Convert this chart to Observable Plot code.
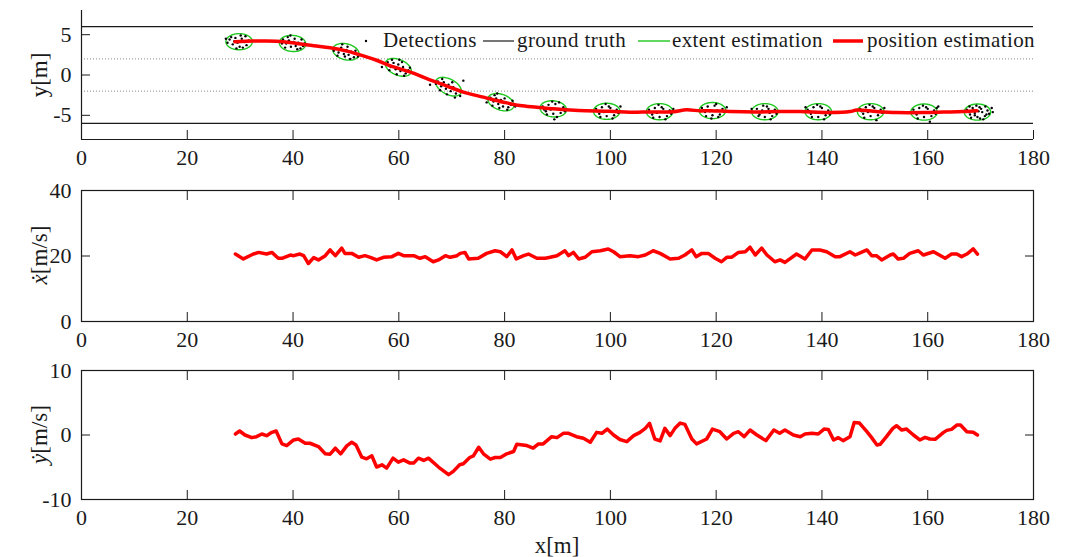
<!DOCTYPE html>
<html><head><meta charset="utf-8">
<script src="https://cdn.jsdelivr.net/npm/d3@7"></script>
<script src="https://cdn.jsdelivr.net/npm/@observablehq/plot@0.6"></script>
<style>
body{margin:0;background:#fff;}
#chart{position:relative;width:1067px;height:557px;font-family:"Liberation Serif","Times New Roman","DejaVu Serif",serif;}
#chart svg{position:absolute;left:0;}
#chart svg text{font-family:"Liberation Serif","Times New Roman","DejaVu Serif",serif !important;}
</style></head><body><div id="chart"></div>
<script>
// ---------- data ----------
const xDomain = [0, 180];
const xTicks = [0, 20, 40, 60, 80, 100, 120, 140, 160, 180];
const yPosDomain = [-8, 8];
const yPosTicks = [-5, 0, 5];
const vxDomain = [0, 40];
const vxTicks = [0, 20, 40];
const vyDomain = [-10, 10];
const vyTicks = [-10, 0, 10];
const roadBoundaries = [6, -6];
const laneMarkings = [2, -2];

const legendLabels = ["Detections", "ground truth", "extent estimation", "position estimation"];

// position estimation [x, y]
const position = [[29.0,4.13],[32.5,4.21],[36.9,4.2],[40.7,3.92],[43.9,3.63],[47.0,3.38],[50.2,2.96],[53.3,2.38],[55.8,1.83],[59.0,1.0],[62.1,0.38],[65.3,-0.46],[69.1,-1.37],[72.2,-2.12],[76.0,-2.75],[79.8,-3.37],[82.9,-3.79],[86.1,-4.0],[89.2,-4.2],[94.0,-4.4],[99.9,-4.5],[103.7,-4.62],[107.5,-4.58],[111.9,-4.55],[114.4,-4.32],[117.0,-4.45],[118.9,-4.42],[122.6,-4.54],[127.7,-4.6],[131.5,-4.54],[135.9,-4.54],[141.5,-4.66],[145.3,-4.54],[146.6,-4.35],[150.4,-4.54],[154.1,-4.66],[159.2,-4.66],[163.0,-4.6],[166.7,-4.54],[169.3,-4.42]];

// extent estimation ellipses
const ellipseX = [29.8, 39.9, 50.0, 59.9, 69.4, 79.3, 89.2, 99.3, 109.3, 119.3, 129.2, 139.3, 149.2, 159.3, 169.4];
const ellipseY = [4.13, 3.92, 2.88, 0.95, -1.45, -3.37, -4.2, -4.5, -4.55, -4.41, -4.55, -4.55, -4.55, -4.6, -4.6];
const ellipseAngle = [0, -2, -7, -12, -15, -10, -3, 0, 0, 0, 0, 0, 0, 0, 0];
const semiMajor = 2.5, semiMinor = 1.0;

// detections [x, y]
const detections = [
[28.0,4.4],[28.6,3.8],[29.1,4.6],[29.5,4.0],[29.9,3.5],[30.3,4.5],[30.8,4.1],[31.2,3.7],[31.6,4.3],[28.9,4.2],[30.5,3.4],[29.3,3.3],[31.0,4.8],[27.6,4.0],[30.1,4.9],[28.3,4.7],[27.3,4.5],
[38.1,4.4],[38.7,3.9],[39.2,4.3],[39.6,3.5],[40.1,4.1],[40.5,3.6],[41.0,4.0],[41.4,3.3],[41.9,3.6],[39.0,4.7],[40.8,3.2],[39.5,4.9],[42.2,3.9],[38.5,3.4],[40.3,4.5],[37.9,3.9],[41.6,4.4],
[48.0,3.3],[48.6,2.8],[49.1,3.4],[49.6,2.6],[50.1,3.1],[50.5,2.5],[51.0,2.9],[51.5,2.2],[52.0,2.6],[49.3,3.8],[50.8,2.0],[48.4,2.4],[51.8,3.0],[49.8,2.3],[50.3,3.5],[52.3,2.3],[47.7,3.0],
[57.9,1.6],[58.5,1.0],[59.0,1.5],[59.4,0.7],[59.9,1.3],[60.3,0.5],[60.8,1.0],[61.3,0.2],[61.8,0.6],[58.7,1.9],[60.6,1.6],[59.6,0.1],[62.1,0.9],[58.2,0.6],[61.0,-0.1],[56.8,1.0],[60.1,1.9],
[67.4,-0.8],[68.0,-1.4],[68.5,-0.9],[68.9,-1.7],[69.4,-1.2],[69.8,-2.0],[70.3,-1.5],[70.8,-2.3],[71.3,-1.9],[68.2,-0.5],[70.1,-0.9],[69.1,-2.4],[71.6,-2.6],[67.8,-1.9],[70.6,-2.8],[65.9,-1.2],[72.2,-0.7],[67.0,-1.1],
[77.3,-2.8],[77.9,-3.3],[78.4,-2.9],[78.8,-3.6],[79.3,-3.1],[79.7,-3.9],[80.2,-3.4],[80.7,-4.0],[81.2,-3.7],[78.1,-2.5],[80.0,-2.9],[79.0,-4.1],[81.5,-3.2],[77.7,-3.8],[80.5,-4.3],[76.6,-3.4],[82.0,-3.9],[78.6,-2.3],
[87.2,-3.9],[87.8,-4.5],[88.3,-3.7],[88.7,-4.3],[89.2,-4.8],[89.6,-3.6],[90.1,-4.2],[90.6,-4.7],[91.1,-4.0],[88.0,-4.9],[89.9,-5.2],[89.0,-3.3],[91.4,-4.5],[87.5,-4.3],[90.3,-3.4],[89.4,-5.5],
[97.3,-4.2],[97.9,-4.8],[98.4,-4.0],[98.8,-4.6],[99.3,-5.1],[99.7,-3.9],[100.2,-4.5],[100.7,-5.0],[101.2,-4.3],[98.1,-5.2],[100.0,-4.1],[99.1,-3.6],[101.5,-4.7],[97.6,-4.5],[100.4,-5.4],[101.9,-3.9],
[107.3,-4.3],[107.9,-4.9],[108.4,-4.1],[108.8,-4.7],[109.3,-5.2],[109.7,-4.0],[110.2,-4.6],[110.7,-5.1],[111.2,-4.4],[108.1,-5.3],[110.0,-4.2],[109.1,-3.7],[111.5,-4.8],[107.6,-4.6],[110.4,-5.5],[111.9,-4.2],
[117.3,-4.1],[117.9,-4.6],[118.4,-3.9],[118.8,-4.5],[119.3,-5.0],[119.7,-3.8],[120.2,-4.4],[120.7,-4.9],[121.2,-4.2],[118.1,-5.1],[120.0,-3.6],[119.1,-5.4],[121.5,-4.6],[117.6,-4.4],[120.4,-5.2],[122.0,-4.0],
[127.0,-4.6],[127.7,-4.2],[128.2,-4.9],[128.7,-4.4],[129.2,-5.2],[129.6,-3.9],[130.1,-4.7],[130.6,-5.1],[131.1,-4.3],[128.0,-5.1],[129.9,-4.2],[128.9,-3.8],[131.4,-4.8],[126.7,-4.2],[130.3,-5.5],[131.8,-4.5],
[137.3,-4.3],[137.9,-4.8],[138.4,-4.0],[138.8,-4.7],[139.3,-5.2],[139.7,-3.9],[140.2,-4.6],[140.7,-5.0],[141.2,-4.4],[138.1,-5.2],[140.0,-4.1],[139.1,-3.7],[141.5,-4.9],[137.6,-4.5],[140.4,-5.5],[136.9,-4.0],
[147.2,-4.2],[147.8,-4.8],[148.3,-4.0],[148.7,-4.6],[149.2,-5.1],[149.6,-3.9],[150.1,-4.5],[150.6,-5.0],[151.1,-4.3],[148.0,-5.3],[149.9,-4.1],[149.0,-3.7],[151.4,-4.7],[147.5,-4.5],[150.3,-5.6],[151.8,-4.1],
[157.3,-4.3],[157.9,-4.9],[158.4,-4.1],[158.8,-4.7],[159.3,-5.2],[159.7,-4.0],[160.2,-4.6],[160.7,-5.1],[161.2,-4.4],[158.1,-5.4],[160.0,-4.2],[159.1,-3.8],[161.5,-4.8],[157.6,-4.6],[160.4,-5.8],[162.0,-3.9],[161.7,-4.1],
[167.4,-4.3],[168.0,-4.9],[168.5,-4.1],[168.9,-4.7],[169.4,-5.2],[169.8,-4.0],[170.3,-4.6],[170.8,-5.1],[171.3,-4.4],[168.2,-5.3],[170.1,-4.2],[169.2,-3.8],[171.6,-4.8],[167.7,-4.6],[170.5,-5.5],[172.1,-4.1],[168.6,-4.4],[169.6,-4.5],[170.9,-3.9],[168.9,-5.0],[171.1,-4.9],[167.9,-3.9],[169.9,-5.4],[172.3,-4.6]
];

// velocity x [x, vx]
const velX = [[29.1,20.6],[30.6,19.1],[32.5,20.6],[33.5,21.1],[35.0,20.6],[36.0,21.1],[37.2,19.3],[37.9,19.3],[39.5,20.3],[40.1,20.1],[41.3,20.6],[42.0,20.1],[42.9,17.7],[43.9,19.5],[44.8,18.8],[46.1,20.1],[47.0,21.85],[48.0,20.1],[49.2,22.4],[49.8,20.8],[51.1,20.8],[52.4,19.6],[53.6,20.1],[54.6,19.6],[55.8,18.8],[57.1,19.6],[58.7,19.8],[59.9,20.8],[60.9,20.1],[62.8,20.1],[64.0,19.3],[65.0,19.8],[66.5,18.25],[67.5,18.8],[68.8,20.1],[69.7,19.6],[71.0,20.1],[71.6,20.8],[72.5,21.1],[73.2,19.1],[75.0,19.3],[76.6,20.8],[78.2,21.6],[79.2,21.3],[80.4,19.8],[81.4,21.85],[82.2,19.1],[83.6,20.1],[84.5,20.6],[86.1,19.3],[87.7,19.3],[88.6,19.6],[89.9,20.1],[91.4,21.6],[92.1,20.1],[93.0,21.1],[94.0,19.1],[95.2,19.6],[96.5,21.3],[98.1,21.6],[99.6,22.15],[100.6,21.3],[101.8,19.8],[103.7,20.1],[105.3,19.8],[106.6,20.3],[108.1,21.6],[109.4,20.8],[111.3,19.1],[112.9,19.3],[114.1,20.3],[115.4,21.85],[116.2,19.8],[117.3,20.8],[118.5,20.8],[119.8,19.3],[121.0,18.25],[122.0,19.6],[122.9,19.6],[124.2,21.1],[125.5,21.3],[126.4,22.7],[127.4,20.3],[128.6,22.4],[129.6,20.3],[131.1,18.25],[132.1,18.8],[133.0,18.05],[135.2,20.6],[136.8,19.1],[138.1,21.85],[139.6,21.85],[140.9,21.3],[142.5,19.8],[143.4,19.8],[145.3,21.3],[146.3,20.3],[148.5,21.85],[149.4,20.1],[150.3,20.1],[151.3,18.8],[152.9,20.3],[153.5,20.6],[154.4,19.1],[155.4,19.3],[156.6,20.8],[158.2,21.6],[159.2,20.3],[161.1,21.3],[163.3,19.3],[164.5,20.6],[165.5,20.6],[166.4,19.8],[167.4,20.6],[168.6,22.15],[169.4,20.6]];

// velocity y [x, vy]
const velY = [[29.1,0.15],[29.9,0.62],[30.9,0.0],[32.2,-0.41],[33.1,-0.26],[34.1,0.15],[35.0,-0.1],[36.0,0.41],[36.8,0.62],[37.9,-1.38],[38.8,-1.64],[40.1,-0.77],[41.0,-0.62],[42.3,-1.28],[43.2,-1.28],[44.8,-1.79],[46.1,-2.92],[47.0,-2.97],[48.0,-2.05],[49.0,-2.92],[50.2,-1.64],[51.1,-1.13],[51.9,-1.54],[53.0,-3.44],[53.9,-3.69],[54.9,-3.23],[55.8,-4.97],[56.8,-4.62],[57.7,-5.13],[58.9,-3.59],[59.9,-4.21],[60.9,-3.85],[62.1,-4.36],[62.8,-4.36],[63.7,-3.59],[64.7,-3.95],[65.6,-3.59],[67.5,-4.97],[69.4,-6.15],[70.3,-5.64],[71.5,-4.62],[72.2,-4.46],[73.4,-3.49],[74.1,-3.23],[75.1,-1.9],[76.0,-2.92],[77.3,-3.74],[78.2,-3.49],[79.2,-3.49],[80.4,-2.92],[81.7,-2.56],[82.3,-1.44],[84.2,-1.64],[85.4,-2.05],[86.4,-1.38],[87.3,-1.38],[88.9,-0.26],[89.9,-0.41],[91.1,0.26],[92.1,0.26],[93.6,-0.26],[94.9,-0.51],[96.2,-1.13],[97.4,0.41],[98.4,0.26],[99.4,0.92],[100.6,0.0],[101.8,-0.7],[103.1,-1.03],[104.4,-0.1],[105.6,0.41],[106.6,1.03],[107.4,1.8],[108.4,-0.62],[109.4,-0.92],[110.3,1.03],[111.3,-0.1],[112.2,1.03],[113.2,1.85],[114.1,1.64],[115.4,-0.62],[116.3,-1.38],[118.2,-0.62],[119.3,0.92],[120.7,0.51],[122.0,-0.62],[123.3,0.26],[124.2,0.51],[125.3,-0.26],[126.4,0.77],[127.7,0.0],[129.4,-0.87],[130.9,0.77],[132.0,0.26],[133.0,0.77],[134.6,0.0],[135.9,-0.26],[136.8,0.15],[138.1,0.26],[139.3,0.15],[140.4,0.92],[141.2,0.87],[142.2,-0.77],[143.1,-0.41],[144.0,-0.87],[145.3,-0.26],[146.1,1.95],[147.1,1.85],[148.5,0.51],[149.4,-0.41],[150.4,-1.54],[151.0,-1.44],[152.2,-0.26],[153.4,1.03],[154.1,1.44],[155.1,0.77],[156.0,0.92],[157.3,0.0],[158.5,-0.77],[159.5,-0.36],[160.4,-0.62],[161.4,-0.67],[163.0,0.41],[163.6,0.72],[164.5,0.87],[165.5,1.54],[166.2,1.54],[167.4,0.51],[168.6,0.41],[169.4,0.0]];

// ---------- drawing ----------
const FONT = '"Liberation Serif","Times New Roman","DejaVu Serif",serif';
const W = 1067, ML = 81, MR = 34;
const RED = "#ff0000", GREEN = "#1ec81e", INK = "#1a1a1a";
const style = {fontFamily: FONT, fontSize: "22px", color: INK, background: "transparent", overflow: "visible"};
const fmt = d => String(d);
const blank = () => "";

const ellipsePts = ellipseX.flatMap((cx, i) => {
  const th = ellipseAngle[i] * Math.PI / 180, cy = ellipseY[i];
  return d3.range(0, 73).map(k => {
    const t = k / 72 * 2 * Math.PI;
    return {id: i,
      x: cx + semiMajor * Math.cos(t) * Math.cos(th) - semiMinor * Math.sin(t) * Math.sin(th),
      y: cy + semiMajor * Math.cos(t) * Math.sin(th) + semiMinor * Math.sin(t) * Math.cos(th)};
  });
});

const chart = document.getElementById("chart");

// top panel
const p1 = Plot.plot({
  width: W, height: 179, marginTop: 10, marginBottom: 40, marginLeft: ML, marginRight: MR, style,
  x: {domain: xDomain}, y: {domain: yPosDomain},
  marks: [
    Plot.ruleY(laneMarkings, {stroke: "#888", strokeWidth: 1, strokeDasharray: "1,2"}),
    Plot.ruleY(roadBoundaries, {stroke: INK, strokeWidth: 1.2}),
    Plot.line(ellipsePts, {x: "x", y: "y", z: "id", stroke: GREEN, strokeWidth: 1.4}),
    Plot.dot(detections, {x: d => d[0], y: d => d[1], r: 1.2, fill: "#000", stroke: null}),
    Plot.line(position, {x: d => d[0], y: d => d[1], stroke: RED, strokeWidth: 3.5, curve: "catmull-rom"}),
    Plot.axisX({ticks: xTicks, tickSize: -9, tickPadding: 19, tickFormat: fmt, label: null}),
    Plot.axisY({ticks: yPosTicks, tickSize: -9, tickPadding: 19, tickFormat: fmt, label: null}),
    Plot.ruleY([yPosDomain[0]], {stroke: INK, strokeWidth: 1.2}),
    Plot.ruleX([xDomain[0]], {stroke: INK, strokeWidth: 1.2})
  ]
});
p1.style.top = "0px";
chart.appendChild(p1);

function velPanel(data, domain, ticks, h, mt, mb) {
  return Plot.plot({
    width: W, height: h, marginTop: mt, marginBottom: mb, marginLeft: ML, marginRight: MR, style,
    x: {domain: xDomain}, y: {domain},
    marks: [
      Plot.axisX({anchor: "bottom", ticks: xTicks, tickSize: -9, tickPadding: 19, tickFormat: fmt, label: null}),
      Plot.axisX({anchor: "top", ticks: xTicks, tickSize: -9, tickPadding: 0, tickFormat: blank, label: null}),
      Plot.axisY({anchor: "left", ticks, tickSize: -9, tickPadding: 19, tickFormat: fmt, label: null}),
      Plot.axisY({anchor: "right", ticks, tickSize: -9, tickPadding: 0, tickFormat: blank, label: null}),
      Plot.frame({stroke: INK, strokeWidth: 1.2}),
      Plot.line(data, {x: d => d[0], y: d => d[1], stroke: RED, strokeWidth: 3.5, strokeLinejoin: "round"})
    ]
  });
}
const p2 = velPanel(velX, vxDomain, vxTicks, 182, 11, 40);
p2.style.top = "179px";
chart.appendChild(p2);
const p3 = velPanel(velY, vyDomain, vyTicks, 196, 9, 58);
p3.style.top = "361px";
chart.appendChild(p3);

// axis titles
function yTitle(svg, parts, cy) {
  const t = d3.select(svg).append("text")
    .attr("transform", `translate(39,${cy}) rotate(-90)`)
    .attr("text-anchor", "middle").attr("dy", "0.35em")
    .attr("font-size", 23).attr("fill", INK);
  parts.forEach(p => t.append("tspan").attr("font-style", p[1] ? "italic" : null).text(p[0]));
}
yTitle(p1, [["y[m]", false]], 75);
yTitle(p2, [["ẋ", true], ["[m/s]", false]], 76);
yTitle(p3, [["ẏ", true], ["[m/s]", false]], 73.5);
d3.select(p3).append("text").attr("x", 557).attr("y", 184).attr("dy", "0.35em")
  .attr("text-anchor", "middle").attr("font-size", 23).attr("fill", INK).text("x[m]");

// legend (inside top panel)
const lg = d3.select(p1).append("g").attr("font-size", 21)
  .attr("fill", INK).attr("text-anchor", "start").attr("letter-spacing", "0.4px");
lg.append("circle").attr("cx", 366).attr("cy", 41).attr("r", 1.2).attr("fill", "#000");
lg.append("text").attr("x", 383).attr("y", 47).text(legendLabels[0]);
lg.append("line").attr("x1", 483).attr("x2", 514).attr("y1", 41).attr("y2", 41).attr("stroke", INK).attr("stroke-width", 1.2);
lg.append("text").attr("x", 517).attr("y", 47).text(legendLabels[1]);
lg.append("line").attr("x1", 638).attr("x2", 670).attr("y1", 41).attr("y2", 41).attr("stroke", GREEN).attr("stroke-width", 1.4);
lg.append("text").attr("x", 672).attr("y", 47).text(legendLabels[2]);
lg.append("line").attr("x1", 833).attr("x2", 863).attr("y1", 41).attr("y2", 41).attr("stroke", RED).attr("stroke-width", 3.5);
lg.append("text").attr("x", 867).attr("y", 47).text(legendLabels[3]);
</script>
</body></html>
